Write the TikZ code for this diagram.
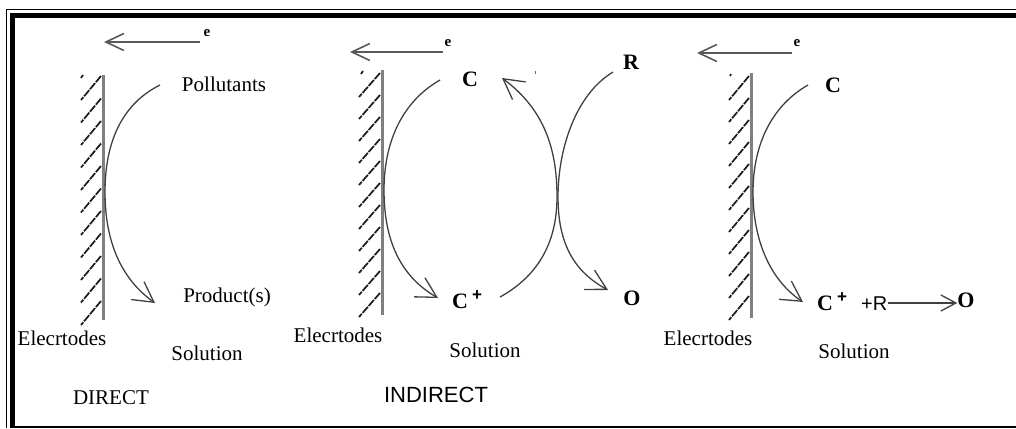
\documentclass[tikz,border=0pt]{standalone}
\usepackage{fontspec}
\setmainfont{Liberation Serif}
\newfontfamily\arialf{Liberation Sans}
\usetikzlibrary{arrows.meta}
\begin{document}
\begin{tikzpicture}[x=1pt,y=-1pt,
 lbl/.style={inner sep=0pt, anchor=base, font=\fontsize{21}{25}\selectfont},
 bl/.style={inner sep=0pt, anchor=base, font=\fontsize{22}{26}\selectfont\bfseries},
 sans/.style={inner sep=0pt, anchor=base, font=\fontsize{22}{26}\selectfont\arialf},
 esym/.style={inner sep=0pt, anchor=base, font=\fontsize{15}{16}\selectfont\bfseries},
 electrode/.style={line width=3pt, draw=black!50},
 hatch/.style={line width=1.7pt, draw=black!90, dash pattern=on 8pt off 1.2pt},
 curve/.style={line width=1.3pt, draw=black!75},
 barb/.style={-{Straight Barb[length=20pt,width=22pt]}},
 earrow/.style={line width=1.6pt, draw=black!65, -{Straight Barb[length=18pt,width=17pt]}},
 rarrow/.style={line width=1.3pt, draw=black!75, -{Straight Barb[length=15pt,width=16pt]}},
 frame thin/.style={line width=1.6pt, line join=miter, draw=black},
 frame thick/.style={line width=5.2pt, line join=miter, draw=black},
]
\useasboundingbox (0,0) rectangle (1016,428);
% frame
\draw[frame thin] (6.5,428) -- (6.5,9.5) -- (1016,9.5);
\draw[frame thick] (12.7,428) -- (12.7,15.7) -- (1016,15.7);
\draw[frame thin] (15.3,426.9) -- (1016,426.9);

% ---------------- DIRECT ----------------
\coordinate (el1t) at (103,75);
\coordinate (el1b) at (103,320);
\foreach \k in {0,...,10} \draw[hatch] (101,{76+\k*22.5}) -- ++(-20,24);
\draw[hatch] (83,75) -- (81,78);
\draw[electrode] (el1t) -- (el1b);
\coordinate (e1s) at (200,42);
\coordinate (e1t) at (104,42);
\draw[earrow] (e1s) -- (e1t);
\node[esym] (e1) at (207,37) {e};
\node[lbl] (poll) at (224,91) {Pollutants};
\node[lbl] (prod) at (227,302) {Product(s)};
\node[lbl] (el1) at (62,345) {Elecrtodes};
\node[lbl] (sol1) at (207,360) {Solution};
\node[lbl] (direct) at (111,404) {DIRECT};
\coordinate (p1s) at (160,85);
\coordinate (p1e) at (155,303);
\draw[curve,barb] (p1s) .. controls (120,105) and (105,145) .. (105,192)
  .. controls (105,240) and (120,278) .. (p1e);

% ---------------- INDIRECT ----------------
\coordinate (el2t) at (382,70);
\coordinate (el2b) at (382,315);
\foreach \k in {0,...,10} \draw[hatch] (380,{73+\k*22}) -- ++(-21,24);
\draw[hatch] (363,71) -- (361,74);
\draw[electrode] (el2t) -- (el2b);
\coordinate (e2s) at (443,52);
\coordinate (e2t) at (350,52);
\draw[earrow] (e2s) -- (e2t);
\node[esym] (e2) at (448,46) {e};
\node[bl] (c2) at (470,86) {C};
\node[bl, anchor=base west] (cp2) at (452,308) {C\hspace{4pt}\raisebox{8pt}{\arialf\fontsize{17}{18}\selectfont +}};
\node[bl] (r2) at (631,70) {R};
\node[bl] (o2) at (632,305) {O};
\node[lbl] (el2) at (338,342) {Elecrtodes};
\node[lbl] (sol2) at (485,357) {Solution};
\node[sans] (indirect) at (436,402) {INDIRECT};
\draw[line width=1pt, draw=black!60] (535,71) -- (535,74);
\coordinate (c2s) at (440,80);
\coordinate (c2e) at (438,298);
\draw[curve,barb] (c2s) .. controls (400,103) and (384,145) .. (384,190)
  .. controls (384,240) and (400,276) .. (c2e);
\coordinate (cp2s) at (500,297);
\coordinate (cp2e) at (502,78);
\draw[curve,barb] (cp2s) .. controls (540,275) and (557,240) .. (557,197)
  .. controls (557,150) and (545,110) .. (cp2e);
\coordinate (r2s) at (613,72);
\coordinate (r2e) at (608,290);
\draw[curve,barb] (r2s) .. controls (575,95) and (558,150) .. (558,197)
  .. controls (558,245) and (575,272) .. (r2e);

% ---------------- third panel ----------------
\coordinate (el3t) at (751,73);
\coordinate (el3b) at (751,318);
\foreach \k in {0,...,10} \draw[hatch] (749,{76+\k*22}) -- ++(-20,24);
\draw[hatch] (731,74) -- (730,76);
\draw[electrode] (el3t) -- (el3b);
\coordinate (e3s) at (792,53);
\coordinate (e3t) at (697,53);
\draw[earrow] (e3s) -- (e3t);
\node[esym] (e3) at (797,47) {e};
\node[bl] (c3) at (833,92) {C};
\node[bl, anchor=base west] (cp3) at (817,310) {C\hspace{4pt}\raisebox{8pt}{\arialf\fontsize{17}{18}\selectfont +}};
\node[inner sep=0pt, anchor=base west, font=\fontsize{20}{24}\selectfont\arialf] (pr3) at (861,310) {+R};
\node[bl] (o3) at (966,307) {O};
\node[lbl] (el3) at (708,345) {Elecrtodes};
\node[lbl] (sol3) at (854,358) {Solution};
\coordinate (c3s) at (808,85);
\coordinate (c3e) at (803,302);
\draw[curve,barb] (c3s) .. controls (768,108) and (753,150) .. (753,192)
  .. controls (753,240) and (770,280) .. (c3e);
\draw[rarrow] (pr3.east |- 0,303) -- (o3.west |- 0,303);
\end{tikzpicture}
\end{document}
